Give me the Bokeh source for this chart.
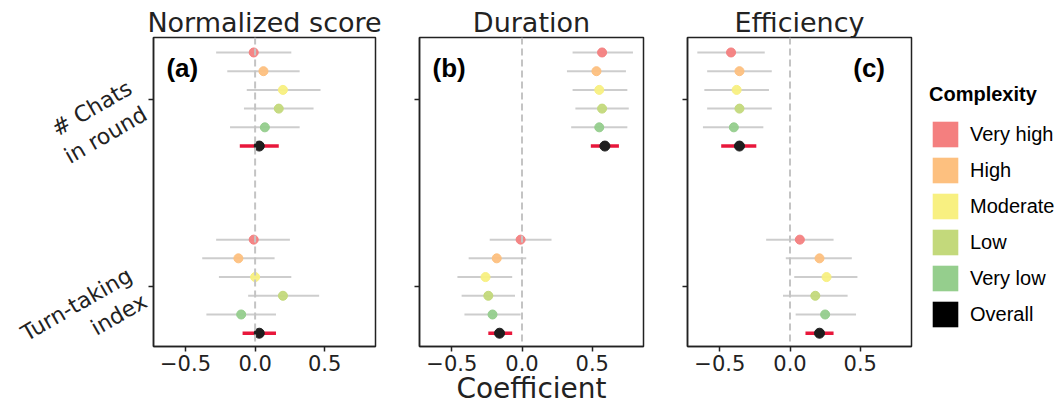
import math
from bokeh.plotting import figure
from bokeh.models import (Range1d, FixedTicker, CustomJSTickFormatter, Span, Label,
                          Legend, LegendItem, ColumnDataSource)
from bokeh.layouts import row
from bokeh.embed import file_html
from bokeh.resources import INLINE

categories = ["Very high", "High", "Moderate", "Low", "Very low", "Overall"]
colors = ["#F47F7F", "#FDC07F", "#F8F081", "#C3D97B", "#95CE8D", "#000000"]
predictors = ["# Chats\nin round", "Turn-taking\nindex"]
outcomes = ["Normalized score", "Duration", "Efficiency"]
panel_tags = ["(a)", "(b)", "(c)"]

# each list: first 6 values = "# Chats in round", last 6 = "Turn-taking index"
score_coef = [-0.01, 0.06, 0.20, 0.17, 0.07, 0.03, -0.01, -0.12, 0.00, 0.20, -0.10, 0.03]
score_lo = [-0.28, -0.20, -0.06, -0.08, -0.18, -0.11, -0.28, -0.38, -0.26, -0.05, -0.35, -0.09]
score_hi = [0.26, 0.32, 0.47, 0.42, 0.32, 0.17, 0.25, 0.14, 0.26, 0.46, 0.15, 0.15]

duration_coef = [0.57, 0.53, 0.55, 0.57, 0.55, 0.59, -0.01, -0.18, -0.26, -0.24, -0.21, -0.16]
duration_lo = [0.36, 0.32, 0.36, 0.38, 0.35, 0.49, -0.23, -0.38, -0.46, -0.43, -0.41, -0.24]
duration_hi = [0.79, 0.74, 0.75, 0.76, 0.75, 0.69, 0.21, 0.03, -0.07, -0.05, -0.01, -0.07]

efficiency_coef = [-0.42, -0.36, -0.38, -0.36, -0.40, -0.36, 0.07, 0.21, 0.26, 0.18, 0.25, 0.21]
efficiency_lo = [-0.66, -0.59, -0.61, -0.59, -0.62, -0.49, -0.17, -0.03, 0.03, -0.05, 0.04, 0.11]
efficiency_hi = [-0.18, -0.13, -0.15, -0.13, -0.19, -0.24, 0.31, 0.44, 0.48, 0.41, 0.47, 0.31]

x_ticks = [-0.5, 0.0, 0.5]
x_label = "Coefficient"

TXT = "#222222"
series = [(score_coef, score_lo, score_hi),
          (duration_coef, duration_lo, duration_hi),
          (efficiency_coef, efficiency_lo, efficiency_hi)]

n_cat = len(categories)
GROUP_GAP = 10
ys, cat_of = [], []
for pi in range(len(predictors)):
    for ci in range(n_cat):
        ys.append(pi * GROUP_GAP + ci)
        cat_of.append(ci)
pred_centers = [pi * GROUP_GAP + (n_cat - 1) / 2 for pi in range(len(predictors))]

H = 408
geom = [  # width, border left, border right
    (395, 152, 20),
    (268, 24, 20),
    (256, 24, 8),
]

figs = []
for k, (coef, lo, hi) in enumerate(series):
    w, bl, br = geom[k]
    p = figure(width=w, height=H, x_range=Range1d(-0.73, 0.865), y_range=Range1d(15.71, -0.8),
               output_backend="svg", toolbar_location=None,
               min_border_left=bl, min_border_right=br, min_border_top=37, min_border_bottom=62)
    p.title.text = outcomes[k]
    p.title.align = "center"
    p.title.text_font = "DejaVu Sans"
    p.title.text_font_style = "normal"
    p.title.text_font_size = "27px"
    p.title.text_color = TXT
    p.title.standoff = 0
    p.title.offset = 0
    p.grid.visible = False
    p.outline_line_color = TXT
    p.outline_line_width = 1.5
    p.outline_line_alpha = 1.0

    light = [i for i in range(len(ys)) if cat_of[i] != n_cat - 1]
    dark = [i for i in range(len(ys)) if cat_of[i] == n_cat - 1]
    src_l = ColumnDataSource(dict(
        y=[ys[i] for i in light], c=[coef[i] for i in light], lo=[lo[i] for i in light],
        hi=[hi[i] for i in light], col=[colors[cat_of[i]] for i in light]))
    src_d = ColumnDataSource(dict(
        y=[ys[i] for i in dark], c=[coef[i] for i in dark], lo=[lo[i] for i in dark],
        hi=[hi[i] for i in dark]))

    p.segment(x0="lo", x1="hi", y0="y", y1="y", source=src_l, line_color="#c8c8c8",
              line_width=2, line_alpha=0.9)
    span = Span(location=0, dimension="height", line_color="#c4c4c4", line_width=2,
                line_dash="7 4", level="glyph")
    p.add_layout(span)
    p.segment(x0="lo", x1="hi", y0="y", y1="y", source=src_d, line_color="#E8173B",
              line_width=3.5)
    p.scatter(x="c", y="y", source=src_l, size=9, fill_color="col", line_color="col",
              fill_alpha=0.95)
    p.scatter(x="c", y="y", source=src_d, size=10, fill_color="#1e1e1e", line_color="#1e1e1e")

    # axes
    p.xaxis.ticker = FixedTicker(ticks=x_ticks)
    p.xaxis.formatter = CustomJSTickFormatter(
        code="return (tick < 0 ? '\u2212' : '') + Math.abs(tick).toFixed(1);")
    p.yaxis.ticker = FixedTicker(ticks=pred_centers)
    if k == 0:
        p.yaxis.formatter = CustomJSTickFormatter(
            args=dict(labels=predictors, gap=GROUP_GAP, off=(n_cat - 1) / 2),
            code="return labels[Math.round((tick - off) / gap)];")
        p.yaxis.major_label_orientation = math.radians(30)
    else:
        p.yaxis.formatter = CustomJSTickFormatter(code="return '';")
    for ax in (p.xaxis[0], p.yaxis[0]):
        ax.axis_line_color = TXT
        ax.axis_line_width = 1.5
        ax.major_tick_line_color = TXT
        ax.major_tick_line_width = 1.5
        ax.major_tick_out = 5
        ax.major_tick_in = 0
        ax.minor_tick_line_color = None
        ax.major_label_text_font = "DejaVu Sans"
        ax.major_label_text_color = TXT
        ax.major_label_standoff = 3
    p.yaxis.major_label_standoff = 11
    p.xaxis.major_label_text_font_size = "21px"
    p.yaxis.major_label_text_font_size = "22px"
    if k == 1:
        p.xaxis.axis_label = x_label
        p.xaxis.axis_label_text_font = "DejaVu Sans"
        p.xaxis.axis_label_text_font_style = "normal"
        p.xaxis.axis_label_text_font_size = "28px"
        p.xaxis.axis_label_text_color = TXT
        p.xaxis.axis_label_standoff = -2

    tag_x = 0.45 if k == 2 else -0.637
    p.add_layout(Label(x=tag_x, y=0.84, text=panel_tags[k], text_font="Liberation Sans",
                       text_font_style="bold", text_font_size="26px", text_baseline="middle",
                       text_color="#000000"))
    figs.append(p)

# legend panel
lg = figure(width=144, height=H, x_range=Range1d(0, 1), y_range=Range1d(0, 1),
            output_backend="svg", toolbar_location=None, min_border=0,
            x_axis_location=None, y_axis_location=None)
lg.grid.visible = False
lg.outline_line_color = None
items = []
for cat, col in zip(categories, colors):
    # zero-size proxy glyph: only used to give the legend its colour swatch
    r = lg.quad(left=[0], right=[0], top=[0], bottom=[0], fill_color=col, line_color=None)
    items.append(LegendItem(label=cat, renderers=[r]))
leg = Legend(items=items, location=(10, 16), title="Complexity",
             title_text_font="Liberation Sans", title_text_font_style="bold",
             title_text_font_size="20px", title_standoff=12, title_text_color="#000000",
             label_text_font="Liberation Sans", label_text_font_size="20px",
             label_text_color="#000000",
             glyph_width=32, glyph_height=32, label_height=32, spacing=4, padding=0,
             margin=0, label_standoff=9, border_line_color=None, background_fill_alpha=0)
lg.add_layout(leg)

layout = row(*figs, lg)
open("out.html", "w").write(file_html(layout, INLINE))
